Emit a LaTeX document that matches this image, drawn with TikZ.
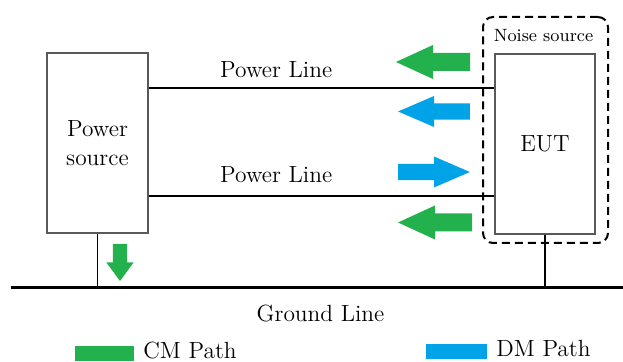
\documentclass[tikz,border=0pt]{standalone}
\usetikzlibrary{positioning}

\definecolor{cmgreen}{RGB}{34,177,76}
\definecolor{dmblue}{RGB}{0,162,232}

\tikzset{
  unit/.style={draw=black!65, line width=0.7pt, inner sep=0pt, minimum height=90pt, align=center},
  wire/.style={line width=0.9pt},
  ground/.style={line width=1.5pt},
  noisebox/.style={draw, dash pattern=on 4pt off 2.5pt, line width=1pt, rounded corners=5pt,
    minimum width=62.5pt, minimum height=113pt},
  txt/.style={inner sep=0pt},
  pics/flow/.style={code={\fill (-37,-9) -- (0,-9) -- (0,-17) -- (37,0) -- (0,17) -- (0,9) -- (-37,9) -- cycle;}},
  dmflow/.style={dmblue, xscale=0.97, yscale=0.91},
}

\begin{document}
\begin{tikzpicture}[x=0.5pt, y=-0.5pt, font=\fontsize{11.7}{14.5}\selectfont]
	\useasboundingbox (0,0) rectangle (623,362);

	% source, equipment and the noise source around it
	\node[unit, minimum width=50.5pt] (ps) at (97.5,143) {Power\\source};
	\node[unit, minimum width=50pt] (eut) at (545,144) {EUT};
	\node[noisebox] (noise) at (545.5,130) {};
	\node[txt, anchor=base, font=\fontsize{8.9}{11}\selectfont] (noiselbl) at (543.5,42) {Noise source};

	% power lines
	\coordinate (l1) at (0,88);
	\coordinate (l2) at (0,196);
	\draw[wire] (ps.east |- l1) -- node[txt, pos=0.369, above=4.5pt] (pl1) {Power Line} (eut.west |- l1);
	\draw[wire] (ps.east |- l2) -- node[txt, pos=0.369, above=6pt] (pl2) {Power Line} (eut.west |- l2);

	% ground line
	\coordinate (gw) at (11,288);
	\coordinate (ge) at (623,288);
	\draw[ground] (gw) -- (ge);
	\draw[wire, line width=0.8pt] (ps.south) -- (ps.south |- gw);
	\draw[wire, line width=0.8pt] (eut.south) -- (eut.south |- gw);
	\node[txt, anchor=base] (gl) at (320.5,322) {Ground Line};

	% noise paths
	\pic[cmgreen, rotate=180] at (433,62) {flow};
	\pic[dmflow, rotate=180] at (434,111.5) {flow};
	\pic[dmflow] at (434,172) {flow};
	\pic[cmgreen, rotate=180] at (435,222.5) {flow};
	\pic[cmgreen, rotate=-90, xscale=0.5, yscale=0.8] at (120,262.5) {flow};

	% legend
	\node[fill=cmgreen, inner sep=0pt, minimum width=29.5pt, minimum height=7.5pt] (cmkey) at (104.5,353.5) {};
	\node[txt, anchor=base west] (cmtxt) at (143,359) {CM Path};
	\node[fill=dmblue, inner sep=0pt, minimum width=30.5pt, minimum height=7.5pt] (dmkey) at (456.5,351.5) {};
	\node[txt, anchor=base west] (dmtxt) at (496,357) {DM Path};
\end{tikzpicture}
\end{document}
